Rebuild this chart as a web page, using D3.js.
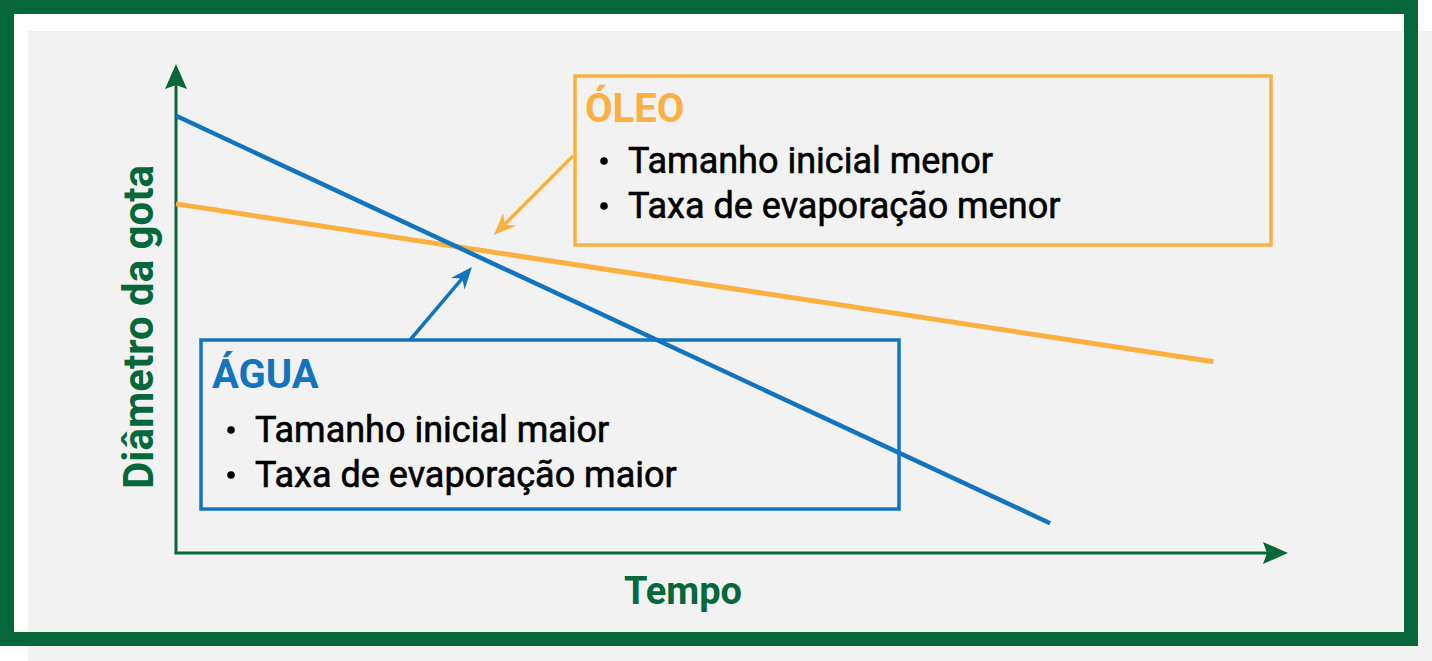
<!DOCTYPE html>
<html>
<head>
<meta charset="utf-8">
<script src="https://cdn.jsdelivr.net/npm/d3@7"></script>
<style>
  body { margin: 0; background: #fff; }
  svg text { font-family: Roboto, "Noto Sans", sans-serif; }
</style>
</head>
<body>
<svg id="chart"></svg>
<script>
var width = 1432;
var height = 661;

// droplet diameter over time (arbitrary units)
var aguaTempo = [0, 78.6];
var aguaDiametro = [89.4, 6.1];
var oleoTempo = [0, 93.3];
var oleoDiametro = [71.4, 39.1];

var eixoX = "Tempo";
var eixoY = "Diâmetro da gota";
var oleoTitulo = "ÓLEO";
var oleoItens = ["Tamanho inicial menor", "Taxa de evaporação menor"];
var aguaTitulo = "ÁGUA";
var aguaItens = ["Tamanho inicial maior", "Taxa de evaporação maior"];

var green = "#06673a";
var blue = "#1273be";
var orange = "#fbb040";

var x = d3.scaleLinear().domain([0, 100]).range([176, 1288]);
var y = d3.scaleLinear().domain([0, 100]).range([553, 64]);

var chart = d3.select("#chart")
    .attr("width", width)
    .attr("height", height);

// background + frame
chart.append("rect")
    .attr("x", 28).attr("y", 31)
    .attr("width", width - 28).attr("height", height - 31)
    .attr("fill", "#f2f2f2");

chart.append("rect")
    .attr("x", 7).attr("y", 7)
    .attr("width", 1404).attr("height", 632)
    .attr("fill", "none")
    .attr("stroke", green)
    .attr("stroke-width", 14);

// axes
chart.append("line")
    .attr("x1", x(0)).attr("y1", y(0))
    .attr("x2", x(0)).attr("y2", y(100) + 20)
    .attr("stroke", green).attr("stroke-width", 3);
chart.append("path")
    .attr("d", "M" + x(0) + "," + y(100) + "l-11,25l11,-4l11,4z")
    .attr("fill", green);

chart.append("line")
    .attr("x1", x(0) - 1.5).attr("y1", y(0))
    .attr("x2", x(100) - 20).attr("y2", y(0))
    .attr("stroke", green).attr("stroke-width", 3);
chart.append("path")
    .attr("d", "M" + x(100) + "," + y(0) + "l-25,-11l4,11l-4,11z")
    .attr("fill", green);

chart.append("text")
    .attr("x", 683).attr("y", 604)
    .attr("text-anchor", "middle")
    .attr("font-size", 38).attr("font-weight", 700)
    .attr("fill", green)
    .text(eixoX);

chart.append("text")
    .attr("transform", "translate(153,327) rotate(-90)")
    .attr("text-anchor", "middle")
    .attr("font-size", 42).attr("font-weight", 700)
    .attr("fill", green)
    .text(eixoY);

// lines
var line = d3.line()
    .x(function(d) { return x(d[0]); })
    .y(function(d) { return y(d[1]); });

chart.append("path")
    .attr("d", line(d3.zip(oleoTempo, oleoDiametro)))
    .attr("fill", "none").attr("stroke", orange).attr("stroke-width", 5);

chart.append("path")
    .attr("d", line(d3.zip(aguaTempo, aguaDiametro)))
    .attr("fill", "none").attr("stroke", blue).attr("stroke-width", 4.5);

// callout boxes
function callout(bx, by, bw, bh, color, titulo, itens, tx, ty, bulletX, firstY) {
    chart.append("rect")
        .attr("x", bx).attr("y", by)
        .attr("width", bw).attr("height", bh)
        .attr("fill", "none").attr("stroke", color).attr("stroke-width", 3.5);
    chart.append("text")
        .attr("x", tx).attr("y", ty)
        .attr("font-size", 40).attr("font-weight", 700)
        .attr("fill", color)
        .text(titulo);
    itens.forEach(function(t, i) {
        chart.append("circle")
            .attr("cx", bulletX + 4).attr("cy", firstY + i * 45 - 12)
            .attr("r", 3.8)
            .attr("fill", "#000");
        chart.append("text")
            .attr("x", bulletX + 28).attr("y", firstY + i * 45)
            .attr("font-size", 36).attr("font-weight", 400)
            .attr("stroke", "#000").attr("stroke-width", 0.6)
            .attr("fill", "#000")
            .text(t);
    });
}

callout(575, 76, 696, 169, orange, oleoTitulo, oleoItens, 585, 122, 600, 173);
callout(201, 340, 698, 169, blue, aguaTitulo, aguaItens, 212, 388, 227, 442);

// arrows towards the crossing
function arrow(x1, y1, x2, y2, color) {
    var a = Math.atan2(y2 - y1, x2 - x1);
    var len = 22, half = 9;
    var bx = x2 - len * Math.cos(a), by = y2 - len * Math.sin(a);
    chart.append("line")
        .attr("x1", x1).attr("y1", y1)
        .attr("x2", x2 - 15 * Math.cos(a)).attr("y2", y2 - 15 * Math.sin(a))
        .attr("stroke", color).attr("stroke-width", 3.5);
    chart.append("path")
        .attr("d", "M" + x2 + "," + y2 +
            "L" + (bx + half * Math.sin(a)) + "," + (by - half * Math.cos(a)) +
            "L" + (x2 - 15 * Math.cos(a)) + "," + (y2 - 15 * Math.sin(a)) +
            "L" + (bx - half * Math.sin(a)) + "," + (by + half * Math.cos(a)) + "Z")
        .attr("fill", color);
}

arrow(573, 156, 494, 235, orange);
arrow(410, 340, 472, 267, blue);
</script>
</body>
</html>
